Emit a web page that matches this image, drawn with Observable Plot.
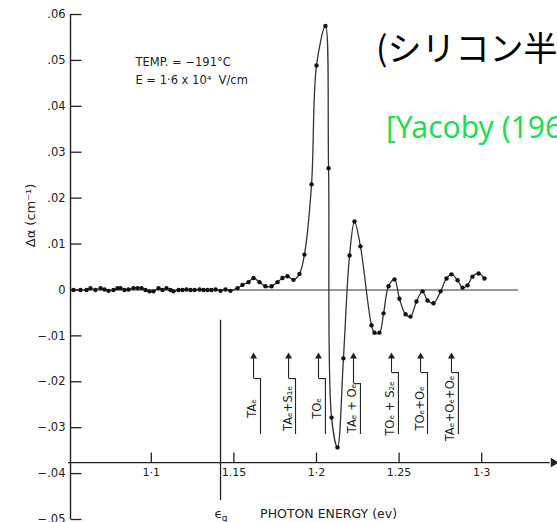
<!DOCTYPE html>
<html><head><meta charset="utf-8">
<script src="https://cdn.jsdelivr.net/npm/d3@7"></script>
<script src="https://cdn.jsdelivr.net/npm/@observablehq/plot@0.6"></script>
<style>
html,body{margin:0;padding:0;background:#fff;overflow:hidden;width:557px;height:522px}
#wrap{position:relative;width:557px;height:522px;overflow:hidden}
#chart svg{display:block}
#title{position:absolute;left:376px;top:30px;font-family:"Noto Sans CJK JP";font-size:34px;white-space:nowrap;color:#000;line-height:1}
#cite{position:absolute;left:386px;top:112px;font-family:"Noto Sans";font-size:30px;white-space:nowrap;color:#1fdc5a;line-height:1}
</style></head>
<body><div id="wrap"><div id="chart"></div><div id="title">(シリコン半導体)</div><div id="cite">[Yacoby (1965)]</div></div>
<script>
// Photon energy (eV) and Δα (cm^-1)
const energy = [1.0529,1.0571,1.0608,1.0632,1.0662,1.0693,1.0717,1.0741,1.0771,1.0795,1.0814,1.0838,1.0862,1.0892,1.0916,1.0941,1.0965,1.0989,1.1013,1.1044,1.1068,1.1092,1.1116,1.1134,1.1165,1.1189,1.1213,1.1237,1.1262,1.1292,1.1316,1.1340,1.1364,1.1389,1.1419,1.1449,1.1479,1.1522,1.1552,1.1588,1.1619,1.1655,1.1691,1.1728,1.1764,1.1794,1.1824,1.1861,1.1897,1.1927,1.1970,1.2000,1.2054,1.2073,1.2091,1.2127,1.2163,1.2200,1.2230,1.2266,1.2333,1.2351,1.2381,1.2406,1.2436,1.2472,1.2502,1.2539,1.2569,1.2605,1.2642,1.2672,1.2708,1.2751,1.2787,1.2817,1.2854,1.2884,1.2914,1.2944,1.2981,1.3017];
const deltaAlpha = [0,0,0,0.0004,0,0.0004,0.0001,-0.0002,0,0.0004,0.0004,0,0.0001,0.0004,0.0004,0.0004,0,-0.0003,-0.0003,0.0004,0,0.0004,0,-0.0003,0,0,0.0001,0,0,0.0001,0,0,0,0.0001,-0.0002,0.0001,-0.0002,0.0004,0.0011,0.0017,0.0026,0.0017,0.0008,0.0008,0.0017,0.0026,0.0030,0.0022,0.0035,0.0077,0.0230,0.0489,0.0575,0.0265,-0.0278,-0.0343,-0.0149,0.0075,0.0149,0.0095,-0.0077,-0.0093,-0.0093,-0.0051,0.0008,0.0023,-0.0019,-0.0053,-0.0058,-0.0025,-0.0003,-0.0023,-0.0029,-0.0003,0.0025,0.0034,0.0021,0.0005,0.0010,0.0029,0.0036,0.0025];

const xTicks = [1.1, 1.15, 1.2, 1.25, 1.3];
const xTickLabels = ["1·1", "1.15", "1·2", "1.25", "1·3"];
const yTicks = [0.06, 0.05, 0.04, 0.03, 0.02, 0.01, 0, -0.01, -0.02, -0.03, -0.04, -0.05];
const yTickLabels = [".06", ".05", ".04", ".03", ".02", ".01", "0", "−.01", "−.02", "−.03", "−.04", "−.05"];

// phonon-assisted thresholds
const phononLabels = ["TAₑ", "TAₑ+S₁ₑ", "TOₑ", "TAₑ + Oₑ", "TOₑ + S₂ₑ", "TOₑ+Oₑ", "TAₑ+Oₑ+Oₑ"];
const phononEnergy = [1.1619, 1.1831, 1.2012, 1.2224, 1.2454, 1.2630, 1.2817];
const phononStep = [-0.0193, -0.0193, -0.0193, -0.0204, -0.0180, -0.0180, -0.0180];

const bandGap = 1.1419;
const annotationLines = ["TEMP. = −191°C", "E = 1·6 x 10⁴  V/cm"];

// frame extents (data units)
const xMin = 1.0511, xArrowEnd = 1.3435, zeroLineEnd = 1.3223, xAxisLevel = -0.0376;
const arrowTop = -0.0145, arrowBottom = -0.0315, stepOffset = 0.0042;

const points = energy.map((e, i) => ({e, v: deltaAlpha[i]}));
const ann = phononEnergy.map((e, i) => ({e, e2: e + stepOffset, step: phononStep[i], label: phononLabels[i]}));

const hTick = {draw(ctx) { ctx.moveTo(0, 0); ctx.lineTo(11, 0); }};
const vTick = {draw(ctx) { ctx.moveTo(0, 0); ctx.lineTo(0, -10); }};
const ink = "#222";
const font = "DejaVu Sans";

const chart = Plot.plot({
  width: 557, height: 522, margin: 0,
  style: {fontFamily: font, background: "#fff", color: ink},
  x: {type: "linear", domain: [1.1, 1.3], range: [150.8, 481.2], axis: null},
  y: {type: "linear", domain: [-0.05, 0.06], range: [519, 14], axis: null},
  marks: [
    // y axis
    Plot.ruleX([xMin], {y1: -0.05, y2: 0.06, stroke: ink, strokeWidth: 1.4}),
    Plot.dot(yTicks, {x: () => xMin, y: d => d, symbol: hTick, r: 1, fill: "none", stroke: ink, strokeWidth: 1.3}),
    Plot.text(yTicks, {x: () => xMin, y: d => d, text: (d, i) => yTickLabels[i], textAnchor: "end", dx: -5, fontSize: 11.5, letterSpacing: 0.6, fill: ink}),
    Plot.text(["Δα (cm⁻¹)"], {frameAnchor: "left", dx: 30, y: () => 0.0093, rotate: -90, fontSize: 13, letterSpacing: 0.5, fill: ink}),
    // x axis
    Plot.ruleY([xAxisLevel], {x1: xMin - 0.0012, x2: xArrowEnd - 0.002, stroke: ink, strokeWidth: 1.3}),
    Plot.dot([xArrowEnd], {x: d => d, y: () => xAxisLevel, symbol: "triangle", rotate: 90, r: 3.5, fill: ink, stroke: "none"}),
    Plot.dot(xTicks, {x: d => d, y: () => xAxisLevel, symbol: vTick, r: 1, fill: "none", stroke: ink, strokeWidth: 1.3}),
    Plot.text(xTicks, {x: d => d, y: () => xAxisLevel, dy: 10, text: (d, i) => xTickLabels[i], fontSize: 11, fill: ink}),
    Plot.text(["PHOTON ENERGY (ev)"], {x: () => 1.2073, y: () => -0.0488, fontSize: 12.5, fill: ink, letterSpacing: 1.8}),
    // zero line
    Plot.ruleY([0], {x1: xMin, x2: zeroLineEnd, stroke: "#333", strokeWidth: 1.1}),
    // band gap
    Plot.ruleX([bandGap], {y1: -0.0066, y2: -0.0459, stroke: ink, strokeWidth: 1.3}),
    Plot.text([bandGap], {x: d => d, y: () => -0.0488, dx: -2, text: () => "ϵ", fontSize: 13, fill: ink}),
    Plot.text([bandGap], {x: d => d, y: () => -0.0488, dx: 4, dy: 4, text: () => "g", fontSize: 9, fill: ink}),
    // phonon threshold markers
    Plot.ruleX(ann, {x: "e", y1: "step", y2: arrowTop, stroke: ink, strokeWidth: 1.1}),
    Plot.link(ann, {x1: "e", x2: "e2", y1: "step", y2: "step", stroke: ink, strokeWidth: 1.1}),
    Plot.ruleX(ann, {x: "e2", y1: "step", y2: arrowBottom, stroke: ink, strokeWidth: 1.1}),
    Plot.dot(ann, {x: "e", y: () => arrowTop, symbol: "triangle", r: 2.6, fill: ink, stroke: "none"}),
    Plot.text(ann, {x: "e2", y: () => -0.0258, text: "label", rotate: -90, lineAnchor: "bottom", dx: -4, fontSize: 11.5, letterSpacing: 0.3, fill: ink}),
    // conditions
    Plot.text(annotationLines, {x: () => 1.0904, y: (d, i) => [0.0496, 0.0456][i], text: d => d, textAnchor: "start", fontSize: 11.5, letterSpacing: 0.6, fill: ink}),
    // data
    Plot.line(points, {x: "e", y: "v", curve: "catmull-rom", stroke: "#333", strokeWidth: 1.3}),
    Plot.dot(points, {x: "e", y: "v", r: 2.2, fill: "#111", stroke: "none"})
  ]
});
document.getElementById("chart").appendChild(chart);
</script>
</body></html>
